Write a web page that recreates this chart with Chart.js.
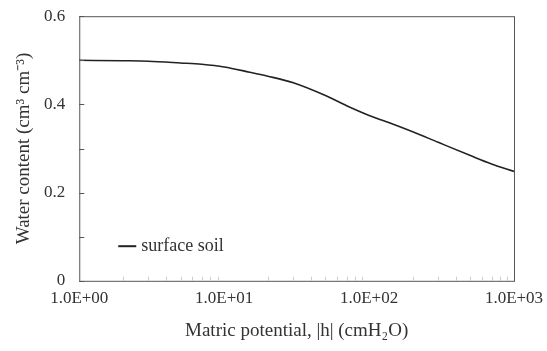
<!DOCTYPE html>
<html>
<head>
<meta charset="utf-8">
<script src="https://cdn.jsdelivr.net/npm/chart.js@4"></script>
<style>
  html, body { margin: 0; padding: 0; background: #fff; }
  #wrap { width: 547px; height: 351px; }
</style>
</head>
<body>
<div id="wrap"><canvas id="chartCurva"></canvas></div>
<script>
// Datos
const potencial = [1, 2, 3, 5, 7, 10, 15, 20, 30, 50, 70, 100, 150, 200, 300, 500, 700, 1000];
const contenidoAgua = [0.500, 0.499, 0.498, 0.494, 0.491, 0.485, 0.473, 0.464, 0.449, 0.420, 0.397, 0.375, 0.354, 0.338, 0.314, 0.284, 0.265, 0.248];
const ticksX = [1, 10, 100, 1000];
const etiquetasX = ['1.0E+00', '1.0E+01', '1.0E+02', '1.0E+03'];
const ticksY = [0, 0.1, 0.2, 0.3, 0.4, 0.5, 0.6];
const etiquetasY = ['0', '', '0.2', '', '0.4', '', '0.6'];
const serie = 'surface soil';

const fuente = 'Liberation Serif';
const colorTexto = '#333';

// Marco, marcas interiores y leyenda
const marcoPlugin = {
    id: 'marco',
    afterDraw(chart) {
        const ctx = chart.ctx;
        const a = chart.chartArea;
        const x = chart.scales.x, y = chart.scales.y;
        ctx.save();
        ctx.strokeStyle = '#555';
        ctx.lineWidth = 1;
        ctx.strokeRect(a.left + 0.5, a.top + 0.5, a.right - a.left, a.bottom - a.top);

        // marcas del eje y
        ticksY.forEach(v => {
            const py = Math.round(y.getPixelForValue(v)) + 0.5;
            ctx.beginPath();
            ctx.moveTo(a.left, py);
            ctx.lineTo(a.left + 5, py);
            ctx.stroke();
        });

        // marcas menores del eje x (tenues)
        ctx.strokeStyle = '#ccc';
        for (let d = 1; d < 1000; d *= 10) {
            for (let k = 2; k <= 9; k++) {
                const px = Math.round(x.getPixelForValue(d * k)) + 0.5;
                ctx.beginPath();
                ctx.moveTo(px, a.bottom);
                ctx.lineTo(px, a.bottom - 4);
                ctx.stroke();
            }
        }

        // leyenda
        const lx = a.left + 39, ly = a.top + 230;
        ctx.strokeStyle = '#222';
        ctx.lineWidth = 2;
        ctx.beginPath();
        ctx.moveTo(lx, ly);
        ctx.lineTo(lx + 18, ly);
        ctx.stroke();
        ctx.fillStyle = colorTexto;
        ctx.font = '18px "' + fuente + '"';
        ctx.textBaseline = 'middle';
        ctx.fillText(serie, lx + 23, ly);
        ctx.restore();
    }
};

const ctx = document.getElementById('chartCurva').getContext('2d');
const chartCurva = new Chart(ctx, {
    type: 'scatter',
    data: {
        datasets: [{
            label: serie,
            data: potencial.map((h, i) => ({ x: h, y: contenidoAgua[i] })),
            showLine: true,
            borderColor: '#222',
            borderWidth: 1.6,
            pointRadius: 0,
            tension: 0.4,
            cubicInterpolationMode: 'monotone'
        }]
    },
    options: {
        responsive: true,
        maintainAspectRatio: false,
        animation: false,
        layout: { padding: { top: 5, right: 33, bottom: 9, left: 15 } },
        plugins: {
            legend: { display: false },
            tooltip: { enabled: false }
        },
        scales: {
            x: {
                type: 'logarithmic',
                min: 1,
                max: 1000,
                grid: { display: false },
                border: { display: false },
                afterBuildTicks: scale => {
                    scale.ticks = ticksX.map(v => ({ value: v }));
                },
                ticks: {
                    autoSkip: false,
                    maxRotation: 0,
                    color: colorTexto,
                    padding: 0,
                    font: { family: fuente, size: 17 },
                    callback: function(value) {
                        const i = ticksX.indexOf(value);
                        return i >= 0 ? etiquetasX[i] : '';
                    }
                },
                title: {
                    display: true,
                    text: 'Matric potential, |h| (cmH\u2082O)',
                    color: colorTexto,
                    font: { family: fuente, size: 19 },
                    padding: { top: 10, bottom: 0 }
                }
            },
            y: {
                min: 0,
                max: 0.6,
                grid: { display: false },
                border: { display: false },
                afterBuildTicks: scale => {
                    scale.ticks = ticksY.map(v => ({ value: v }));
                },
                ticks: {
                    color: colorTexto,
                    padding: 6,
                    font: { family: fuente, size: 17 },
                    callback: function(value, index) {
                        return etiquetasY[index];
                    }
                },
                title: {
                    display: true,
                    text: 'Water content (cm\u00b3 cm\u207b\u00b3)',
                    color: colorTexto,
                    font: { family: fuente, size: 19, lineHeight: 1.0 },
                    padding: { top: 0, bottom: 4 }
                }
            }
        }
    },
    plugins: [marcoPlugin]
});
</script>
</body>
</html>
